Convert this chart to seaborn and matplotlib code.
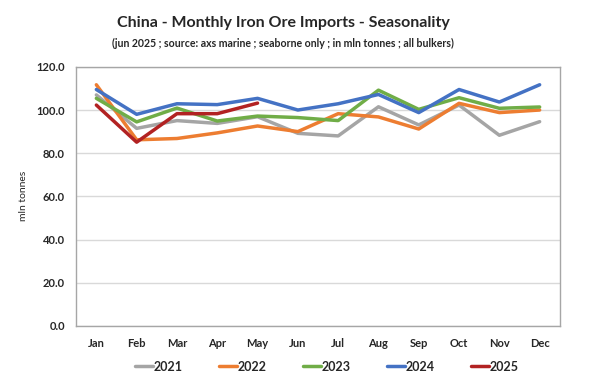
import pandas as pd
import numpy as np
import seaborn as sns
import matplotlib.pyplot as plt

months = ["Jan", "Feb", "Mar", "Apr", "May", "Jun", "Jul", "Aug", "Sep", "Oct", "Nov", "Dec"]
y2021 = [107.0, 91.5, 95.1, 93.8, 96.9, 89.2, 88.0, 101.5, 93.1, 102.3, 88.3, 94.6]
y2022 = [111.7, 86.2, 86.8, 89.4, 92.6, 90.0, 98.3, 96.8, 91.2, 103.1, 98.8, 100.0]
y2023 = [105.4, 94.5, 100.9, 94.9, 97.2, 96.5, 95.1, 109.2, 100.3, 105.7, 100.8, 101.4]
y2024 = [109.5, 98.0, 102.9, 102.5, 105.4, 100.0, 102.9, 107.2, 98.8, 109.5, 103.7, 111.7]
y2025 = [102.3, 85.1, 98.3, 98.3, 103.2]
years = ["2021", "2022", "2023", "2024", "2025"]
colors = ["#A5A5A5", "#ED7D31", "#70AD47", "#4472C4", "#B22222"]

# long format table for seaborn
rows = []
for yr, vals in zip(years, [y2021, y2022, y2023, y2024, y2025]):
    for i, v in enumerate(vals):
        rows.append({"month": i, "year": yr, "value": v})
df = pd.DataFrame(rows)

sns.set_style("white")
plt.rcParams["font.family"] = ["Lato", "DejaVu Sans"]

fig = plt.figure(figsize=(6, 3.82), dpi=100)
ax = fig.add_axes([0.127, 0.147, 0.806, 0.678])

sns.lineplot(data=df, x="month", y="value", hue="year", palette=colors,
             linewidth=2.5, ax=ax, legend=False)

ax.set_xlim(-0.5, 11.5)
ax.set_ylim(0, 120)
ax.set_yticks(np.arange(0, 121, 20))
ax.set_yticklabels([f"{v:.1f}" for v in np.arange(0, 121, 20)], fontsize=8, fontweight="bold")
ax.set_xticks(range(12))
ax.set_xticklabels(months, fontsize=8, fontweight="bold")
ax.tick_params(axis="both", length=3, color="#A6A6A6", pad=5)
ax.tick_params(axis="x", length=0, pad=9)
ax.grid(axis="y", color="#D9D9D9", linewidth=1)
ax.set_axisbelow(True)
for s in ["top", "right", "left", "bottom"]:
    ax.spines[s].set_color("#A6A6A6")
    ax.spines[s].set_linewidth(1)
ax.set_xlabel("")
ax.set_ylabel("mln tonnes", fontsize=7.5, labelpad=6)

handles = [plt.Line2D([], [], color=c, linewidth=2.5) for c in colors]
fig.legend(handles, years, loc="lower center", bbox_to_anchor=(0.545, -0.005), ncol=5,
           frameon=False, handlelength=1.4, handletextpad=0.1, columnspacing=2.9,
           prop={"weight": "bold", "size": 9})

fig.text(0.472, 0.93, "China - Monthly Iron Ore Imports - Seasonality",
         ha="center", fontsize=11.5, fontweight="bold")
fig.text(0.472, 0.877, "(jun 2025 ; source: axs marine ; seaborne only ; in mln tonnes ; all bulkers)",
         ha="center", fontsize=7.6, fontweight="bold")

fig.savefig("out.png", dpi=100)
